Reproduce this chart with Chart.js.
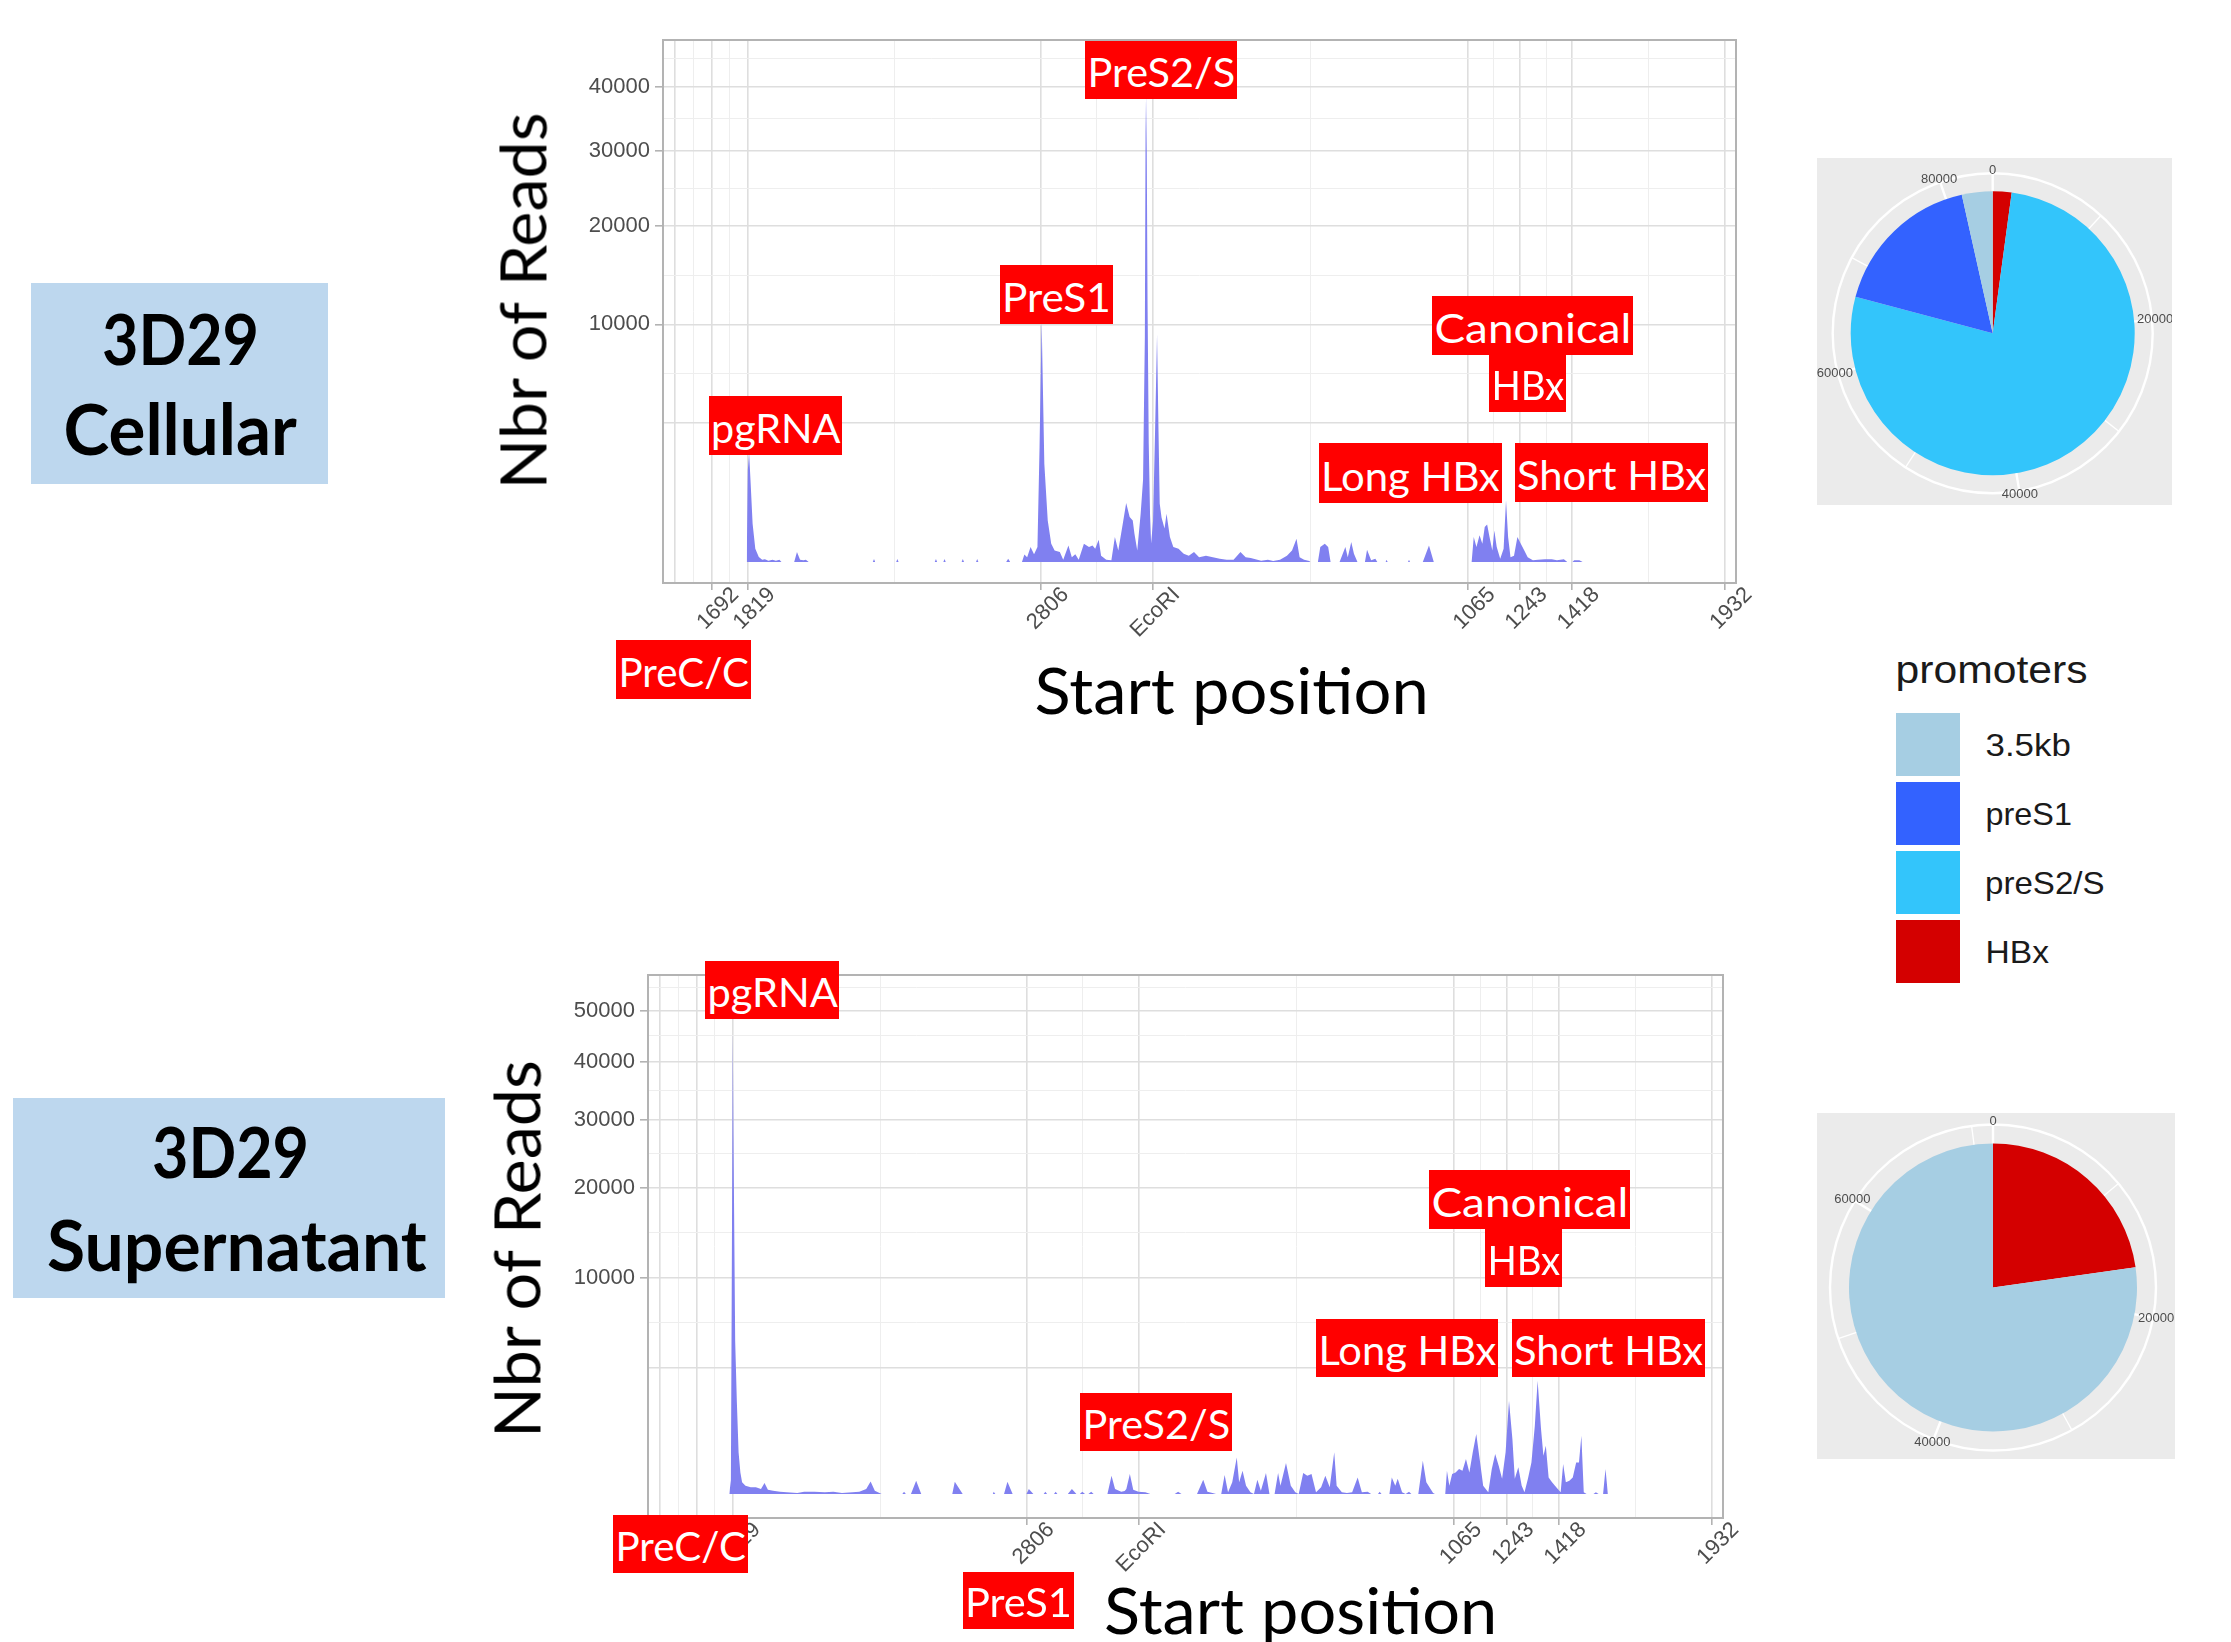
<!DOCTYPE html>
<html>
<head>
<meta charset="utf-8">
<title>3D29 start positions</title>
<script src="https://cdn.jsdelivr.net/npm/chart.js@4.4.1/dist/chart.umd.min.js"></script>
<style>
  html, body { margin: 0; padding: 0; background: #fff; }
  body { position: relative; width: 2231px; height: 1642px; overflow: hidden; }
  canvas { position: absolute; }
  .txt { position: absolute; white-space: nowrap; transform-origin: 50% 50%; }
  .box { position: absolute; }
</style>
</head>
<body>
<canvas id="cellArea" width="1200" height="700" style="left:560px;top:20px"></canvas>
<canvas id="supArea" width="1200" height="680" style="left:545px;top:955px"></canvas>
<canvas id="cellPie" width="355" height="347" style="left:1817px;top:158px"></canvas>
<canvas id="supPie" width="358" height="346" style="left:1817px;top:1113px"></canvas>
<script>
// read counts per start position (x in axis units, reads)
const cellPos = [83.8, 84.9, 86.2, 87.6, 89.7, 92.4, 95.9, 99.3, 102, 105.5, 109.6, 113, 116.5, 118.6,
  131.3, 134.1, 137.2, 140.6, 143, 145.8, 210, 211.2, 212.4, 233.4, 234.6, 235.8, 272, 273.2, 274.4,
  280.6, 281.8, 283, 298.9, 300.1, 301.3, 313.3, 314.5, 315.7, 343.5, 345.5, 347.5,
  359.3, 361.7, 364.5, 367.9, 371.4, 374.8, 376.9, 379, 381.7, 385.1, 388.6, 392, 397.2, 400.6,
  405.8, 409.2, 412.7, 416.1, 421.3, 426.4, 429.9, 432.6, 436.1, 438.5, 443.7, 448.8, 452.3, 455.7,
  460.2, 463.6, 467.1, 470.2, 471.9, 474.7, 478.1, 480.5, 482.3, 483, 483.5, 484.2, 485, 486.2,
  487.5, 488.6, 490.5, 492.5, 494.5, 496, 497.2, 499, 502, 504, 507.4, 510.8, 516, 521.2, 526.3,
  531.5, 536.6, 543.5, 550.4, 557.3, 564.2, 571.1, 578, 583.2, 588.3, 598.7, 605.5, 610.7, 617.6,
  624.5, 629.6, 634.1, 637.2, 641.7, 646.9, 648, 655.5, 657.9, 662.4, 665.8, 668.2, 677.2, 683,
  685.4, 688.9, 691.6, 695.1, 702.6, 704.7, 708.8, 713, 715, 723.3, 724.3, 725.3, 745.7, 746.7,
  747.7, 760.5, 766.7, 771.5, 809.4, 811.5, 814.2, 817.3, 820.1, 822.5, 824.9, 827.3, 830.1, 832.1,
  834.5, 838, 841.4, 843.8, 845.9, 848.3, 851.8, 855.2, 858.6, 862.1, 865.5, 870.7, 875.9, 882.7,
  889.6, 894.8, 901.7, 905.1, 910.3, 912, 917.2, 920.6];
const cellReads = [0, 1500, 2100, 1180, 260, 31, 4.4, 1, 1.3, 0.3, 1, 0.3, 1, 0,
  0, 17.7, 1, 0.5, 1, 0, 0, 1.6, 0, 0, 1.6, 0, 0, 1.6, 0,
  0, 1.6, 0, 0, 1.6, 0, 0, 1.6, 0, 0, 2, 0,
  0, 10, 4, 40, 11, 40, 2340, 10300, 1700, 307, 59, 24, 18, 1,
  49, 4, 11, 1, 59, 40, 49, 31, 88, 7, 1, 0.5, 111, 24,
  260, 616, 357, 307, 142, 24, 413, 1200, 9000, 32800, 38500, 30000, 12000, 2500,
  400, 60, 300, 3000, 9160, 3000, 600, 350, 200, 413, 111, 40, 31, 12, 7,
  18, 4, 7, 4, 2, 1, 1, 18, 4, 3, 0.3, 1, 0.2, 1,
  7, 24, 96, 4, 1, 0.2, 0, 0, 40, 59, 40, 0, 0, 40,
  4, 71, 12, 0, 0, 27, 0.5, 2, 0, 0, 1, 0, 0, 1,
  0, 0, 49, 0, 0, 111, 40, 126, 59, 217, 250, 111, 24, 177,
  40, 2, 31, 674, 111, 4, 7, 111, 59, 24, 4, 0.5, 1, 1.3,
  1.3, 0.5, 1.3, 0, 0, 0.5, 0.5, 0];

const supPos = [81.2, 82.8, 83.5, 84.7, 85.4, 86.1, 87.1, 88.8, 90.5, 92.3, 94, 97.4, 102.6, 107.8,
  112.9, 116.4, 119.8, 125, 131.9, 138.7, 149.1, 156, 166.3, 176.6, 185.2, 193.8, 204.2, 211.1, 218,
  222.4, 226.6, 233.4, 254.1, 255.8, 257.6, 262.7, 267.9, 273, 304, 306.5, 314.4, 344.5, 345.4, 347,
  355.7, 359.1, 364.3, 378.1, 380.5, 385, 395.3, 397, 398.7, 405.6, 407.3, 409, 419.4, 423.5, 428,
  431.4, 433.9, 436.6, 440, 442.8, 445.2, 459, 463.1, 466.6, 472.8, 476.2, 477.9, 481.4, 484.8, 490,
  496.9, 502, 526.2, 529.6, 533, 548.5, 554.7, 558.9, 564, 567.5, 572.7, 576.1, 579.5, 583.7, 588.2,
  590.6, 594, 597.5, 601.9, 605.4, 608.8, 612.3, 617.4, 620.9, 626, 629.5, 631.9, 637.4, 642.2, 646.7,
  650.1, 654.6, 658.7, 662.9, 667.4, 672.5, 676.7, 681.1, 685.6, 688, 693.2, 698.3, 703.5, 709, 713.2,
  719, 722.5, 729.3, 731, 732.8, 740.7, 743.1, 746.6, 749, 753.4, 756.9, 760.3, 762.7, 769.6, 774.1,
  777.6, 784.4, 786.2, 796.5, 798.2, 800.6, 803.4, 806.8, 810.3, 813.7, 817.2, 820.6, 824, 827.5,
  830.9, 834.4, 839.5, 843, 846.4, 849.9, 853.3, 856.8, 860.2, 863.6, 866, 869.5, 872.9, 875.7, 879.1,
  882.6, 886, 888.8, 892.2, 894.6, 897, 899.8, 903.2, 907.4, 911.8, 914.3, 917, 920.5, 923.9, 927.3,
  930.1, 932.5, 934.9, 937.7, 944.6, 947, 949.7, 954.2, 956.6, 959];
const supReads = [0, 40, 6000, 45800, 27400, 16000, 5000, 1795, 371, 100, 29, 15, 9.5, 9.5,
  5.3, 26, 4, 2.4, 1.2, 0.6, 0.2, 1, 1.2, 0.6, 1.2, 0.2, 0.6, 1.2, 5.3,
  34, 2.4, 0, 0, 1.2, 0, 0, 38, 0, 0, 32, 0, 0, 1.2, 0,
  0, 32, 0, 0, 5.3, 0, 0, 1.2, 0, 0, 1.2, 0, 0, 5.3, 0,
  0, 1.2, 0, 0, 1.2, 0, 0, 72, 5.3, 1.2, 2, 5.3, 85, 4, 1.2,
  0.6, 0, 0, 1.2, 0, 0, 44, 1.2, 0.2, 0, 0, 77, 0.6, 29, 287,
  29, 116, 15, 0.6, 0, 44, 2.4, 94, 0, 0, 94, 15, 205, 15, 0.6,
  0, 94, 72, 85, 0.6, 9.5, 72, 9.5, 371, 15, 0.6, 0.2, 0.6, 59, 0.6,
  1.2, 0, 0, 1.2, 0, 0, 59, 15, 50, 0.6, 0, 1.2, 0, 0, 237,
  29, 0.2, 0, 0, 116, 15, 85, 100, 133, 116, 262, 100, 371, 768,
  262, 15, 0.6, 133, 342, 172, 50, 371, 1860, 646, 50, 152, 15, 0.6, 50,
  214, 996, 2742, 902, 314, 498, 59, 29, 9.5, 0.6, 192, 29, 38, 59, 214,
  214, 726, 0.6, 0, 0, 0.6, 0, 0, 133, 0];

// x axis breaks (axis units) and their labels
const xBreaks = [12, 48.5, 85, 378.6, 490, 805.5, 857.7, 910, 1062.5];
const xLabels = ['', '1692', '1819', '2806', 'EcoRI', '1065', '1243', '1418', '1932'];
const yBreaks = [3420, 10000, 20000, 30000, 40000, 50000, 60000];
const yLabels = ['', '10000', '20000', '30000', '40000', '50000', '60000'];

// promoter usage (pie charts)
const promoters = ['3.5kb', 'preS1', 'preS2/S', 'HBx'];
const promoterColors = ['#a6cee3', '#3362ff', '#33c5fb', '#d40000'];
const cellPromoterReads = [2955, 14670, 65070, 1805];
const supPromoterReads = [55230, 0, 0, 16270];
const pieBreaks = [0, 20000, 40000, 60000, 80000];
const pieLabels = ['0', '20000', '40000', '60000', '80000'];

Chart.defaults.font.family = "'Liberation Sans', Arial, sans-serif";

// square-root y scale, as in scale_y_sqrt
const ssqrt = v => Math.sign(v) * Math.sqrt(Math.abs(v));
class SqrtScale extends Chart.LinearScale {
    getPixelForValue(value) {
        const lo = ssqrt(this.min), hi = ssqrt(this.max);
        return this.getPixelForDecimal((ssqrt(value) - lo) / (hi - lo));
    }
    getValueForPixel(pixel) {
        const lo = ssqrt(this.min), hi = ssqrt(this.max);
        const s = lo + this.getDecimalForPixel(pixel) * (hi - lo);
        return Math.sign(s) * s * s;
    }
}
SqrtScale.id = 'sqrt';
SqrtScale.defaults = Chart.LinearScale.defaults;
Chart.register(SqrtScale);

const MAJOR = '#dedede', MINOR = '#eeeeee', TICK = '#b3b3b3', LABEL = '#4d4d4d';

const panelBorder = {
    id: 'panelBorder',
    afterDatasetsDraw(chart) {
        const { ctx, chartArea: a } = chart;
        ctx.save();
        ctx.strokeStyle = '#b3b3b3';
        ctx.lineWidth = 2;
        ctx.strokeRect(a.left, a.top, a.right - a.left, a.bottom - a.top);
        ctx.restore();
    }
};

const xMinor = xBreaks.slice(1).map((b, i) => (b + xBreaks[i]) / 2);
const yMinor = yBreaks.slice(1).map((b, i) => Math.pow((Math.sqrt(b) + Math.sqrt(yBreaks[i])) / 2, 2));

const areaChart = (id, pos, reads, lim, box) => new Chart(document.getElementById(id), {
    type: 'line',
    data: {
        datasets: [{
            data: pos.map((x, i) => ({ x, y: reads[i] })),
            borderWidth: 0,
            borderColor: 'rgba(0,0,0,0)',
            backgroundColor: '#8080f0',
            pointRadius: 0,
            fill: 'origin',
            tension: 0
        }]
    },
    options: {
        responsive: false,
        animation: false,
        events: [],
        layout: { padding: { top: box.padTop, right: box.padRight, left: 0, bottom: 0 } },
        plugins: { legend: { display: false }, tooltip: { enabled: false } },
        scales: {
            x: {
                type: 'linear', min: 0, max: 1074, bounds: 'data',
                afterBuildTicks: s => {
                    s.ticks = [...xBreaks, ...xMinor].sort((a, b) => a - b).map(value => ({ value }));
                },
                afterFit: s => { s.height = box.axisH; },
                ticks: {
                    autoSkip: false, minRotation: 45, maxRotation: 45, padding: -8, labelOffset: 24,
                    color: LABEL, font: { size: 22 },
                    callback: v => { const i = xBreaks.indexOf(v); return i >= 0 ? xLabels[i] : ''; }
                },
                grid: {
                    color: c => (c.tick && xBreaks.includes(c.tick.value)) ? MAJOR : MINOR,
                    lineWidth: c => (c.tick && xBreaks.includes(c.tick.value)) ? 1.6 : 1,
                    tickLength: 7,
                    tickColor: c => (c.tick && xBreaks.includes(c.tick.value) && c.tick.value > 20) ? TICK : 'rgba(0,0,0,0)'
                },
                border: { display: false }
            },
            y: {
                type: 'sqrt', min: lim[0], max: lim[1], bounds: 'data',
                afterBuildTicks: s => {
                    s.ticks = [...yBreaks, ...yMinor].filter(v => v <= lim[1])
                        .sort((a, b) => a - b).map(value => ({ value }));
                },
                afterFit: s => { s.width = box.axisW; },
                ticks: {
                    padding: 5, color: LABEL, font: { size: 22 },
                    callback: v => { const i = yBreaks.indexOf(v); return i >= 0 ? yLabels[i] : ''; }
                },
                grid: {
                    color: c => (c.tick && yBreaks.includes(c.tick.value)) ? MAJOR : MINOR,
                    lineWidth: c => (c.tick && yBreaks.includes(c.tick.value)) ? 1.6 : 1,
                    tickLength: 8,
                    tickColor: c => (c.tick && yBreaks.includes(c.tick.value) && yLabels[yBreaks.indexOf(c.tick.value)]) ? TICK : 'rgba(0,0,0,0)'
                },
                border: { display: false }
            }
        }
    },
    plugins: [panelBorder]
});

areaChart('cellArea', cellPos, cellReads, [-78, 48270], { padTop: 20, padRight: 24, axisW: 103, axisH: 137 });
areaChart('supArea', supPos, supReads, [-123, 57600], { padTop: 20, padRight: 22, axisW: 103, axisH: 117 });

// grey polar panel, white ring, radial grid and angle labels
const polarDecor = {
    id: 'polarDecor',
    beforeDraw(chart) {
        const { ctx, width, height } = chart;
        ctx.save();
        ctx.fillStyle = '#ebebeb';
        ctx.fillRect(0, 0, width, height);
        ctx.restore();
    },
    beforeDatasetsDraw(chart, args, opts) {
        const { ctx } = chart;
        const arc = chart.getDatasetMeta(0).data[0];
        const total = chart.data.datasets[0].data.reduce((s, v) => s + v, 0);
        const ring = arc.outerRadius + opts.gap;
        ctx.save();
        ctx.strokeStyle = '#ffffff';
        ctx.lineWidth = 2.4;
        ctx.beginPath();
        ctx.arc(arc.x, arc.y, ring, 0, Math.PI * 2);
        ctx.stroke();
        for (let v = 0; v < total; v += 10000) {
            const a = v / total * Math.PI * 2 - Math.PI / 2;
            ctx.lineWidth = v % 20000 === 0 ? 2.4 : 1.3;
            ctx.beginPath();
            ctx.moveTo(arc.x + Math.cos(a) * (arc.outerRadius - 2), arc.y + Math.sin(a) * (arc.outerRadius - 2));
            ctx.lineTo(arc.x + Math.cos(a) * ring, arc.y + Math.sin(a) * ring);
            ctx.stroke();
        }
        ctx.restore();
    },
    afterDatasetsDraw(chart, args, opts) {
        const { ctx } = chart;
        const arc = chart.getDatasetMeta(0).data[0];
        const total = chart.data.datasets[0].data.reduce((s, v) => s + v, 0);
        const r = arc.outerRadius + opts.gap + 3;
        ctx.save();
        ctx.fillStyle = LABEL;
        ctx.font = "13px 'Liberation Sans', Arial, sans-serif";
        ctx.textAlign = 'center';
        ctx.textBaseline = 'middle';
        pieBreaks.forEach((v, i) => {
            if (v >= total) return;
            const a = v / total * Math.PI * 2 - Math.PI / 2;
            ctx.fillText(pieLabels[i], arc.x + Math.cos(a) * r, arc.y + Math.sin(a) * r);
        });
        ctx.restore();
    }
};

// slices run clockwise from the top in reverse legend order
const pieChart = (id, reads, pad, gap) => new Chart(document.getElementById(id), {
    type: 'pie',
    data: {
        labels: promoters.slice().reverse(),
        datasets: [{
            data: reads.slice().reverse(),
            backgroundColor: promoterColors.slice().reverse(),
            borderWidth: 0,
            hoverOffset: 0
        }]
    },
    options: {
        responsive: false,
        animation: false,
        events: [],
        layout: { padding: pad },
        plugins: { legend: { display: false }, tooltip: { enabled: false }, polarDecor: { gap } }
    },
    plugins: [polarDecor]
});

pieChart('cellPie', cellPromoterReads, { left: 33.7, right: 37.3, top: 33.3, bottom: 29.7 }, 18);
pieChart('supPie', supPromoterReads, { left: 32, right: 38, top: 30.5, bottom: 27.5 }, 19);

// text helpers: centre along the text, baseline position, target width
const meter = document.createElement('canvas').getContext('2d');
const addText = (str, o) => {
    const family = o.font || 'Lato, sans-serif';
    const weight = o.bold ? '700' : '400';
    meter.font = `${weight} ${o.size}px ${family}`;
    const m = meter.measureText(str);
    const lift = (m.fontBoundingBoxAscent - m.fontBoundingBoxDescent) / 2;
    const el = document.createElement('div');
    el.className = 'txt';
    el.textContent = str;
    el.style.font = `${weight} ${o.size}px/1 ${family}`;
    el.style.color = o.color || '#000';
    document.body.appendChild(el);
    const w = el.offsetWidth;
    const sx = o.width ? o.width / w : 1;
    let cx = o.x, cy = o.y;
    if (o.rotate) cx = o.base - lift; else cy = o.base - lift;
    el.style.left = (cx - w / 2) + 'px';
    el.style.top = (cy - o.size / 2) + 'px';
    el.style.transform = `rotate(${o.rotate || 0}deg) scaleX(${sx})`;
};
const addBox = (x0, y0, x1, y1, color) => {
    const d = document.createElement('div');
    d.className = 'box';
    Object.assign(d.style, { left: x0 + 'px', top: y0 + 'px', width: (x1 - x0) + 'px', height: (y1 - y0) + 'px', background: color });
    document.body.appendChild(d);
};

// sample name boxes
addBox(31, 283, 328, 484, '#bdd7ee');
addText('3D29', { x: 180, base: 365, size: 70, width: 157, bold: true });
addText('Cellular', { x: 180, base: 455, size: 70, width: 233, bold: true });
addBox(13, 1098, 445, 1298, '#bdd7ee');
addText('3D29', { x: 230, base: 1178, size: 70, width: 157, bold: true });
addText('Supernatant', { x: 237, base: 1271, size: 70, width: 380, bold: true });

// axis titles
addText('Nbr of Reads', { y: 301, base: 547, size: 64, width: 377, rotate: -90 });
addText('Start position', { x: 1231, base: 714, size: 64, width: 394 });
addText('Nbr of Reads', { y: 1249, base: 541, size: 64, width: 378, rotate: -90 });
addText('Start position', { x: 1300, base: 1634, size: 64, width: 393 });

// red annotation tags
const tags = [
    ['PreS2/S', 1085, 41, 1237, 99], ['PreS1', 1000, 265, 1113, 324], ['pgRNA', 709, 396, 842, 455],
    ['Canonical', 1432, 296, 1633, 355], ['HBx', 1489, 355, 1566, 412],
    ['Long HBx', 1319, 443, 1502, 503], ['Short HBx', 1515, 443, 1708, 502], ['PreC/C', 616, 640, 751, 699],
    ['pgRNA', 705, 961, 839, 1019], ['Canonical', 1429, 1170, 1630, 1229], ['HBx', 1485, 1229, 1562, 1287],
    ['Long HBx', 1316, 1319, 1498, 1377], ['Short HBx', 1512, 1319, 1705, 1377],
    ['PreS2/S', 1080, 1393, 1232, 1451], ['PreC/C', 613, 1515, 748, 1573], ['PreS1', 963, 1572, 1074, 1629]
];
tags.forEach(([t, x0, y0, x1, y1]) => {
    addBox(x0, y0, x1, y1, '#ff0000');
    addText(t, { x: (x0 + x1) / 2, base: y1 - 12, size: 40, width: x1 - x0 - 4, color: '#ffffff' });
});

// promoters legend
const sans = "'Liberation Sans', Arial, sans-serif";
addText('promoters', { x: 1991, base: 683, size: 38, width: 192, font: sans, color: '#1a1a1a' });
const legendWidths = [85, 86, 120, 63];
promoters.forEach((p, i) => {
    const top = 712.7 + i * 69;
    addBox(1896, top, 1960, top + 63, promoterColors[i]);
    addText(p, { x: 1985 + legendWidths[i] / 2, base: top + 31.5 + 12, size: 32, width: legendWidths[i], font: sans, color: '#1a1a1a' });
});
</script>
</body>
</html>
